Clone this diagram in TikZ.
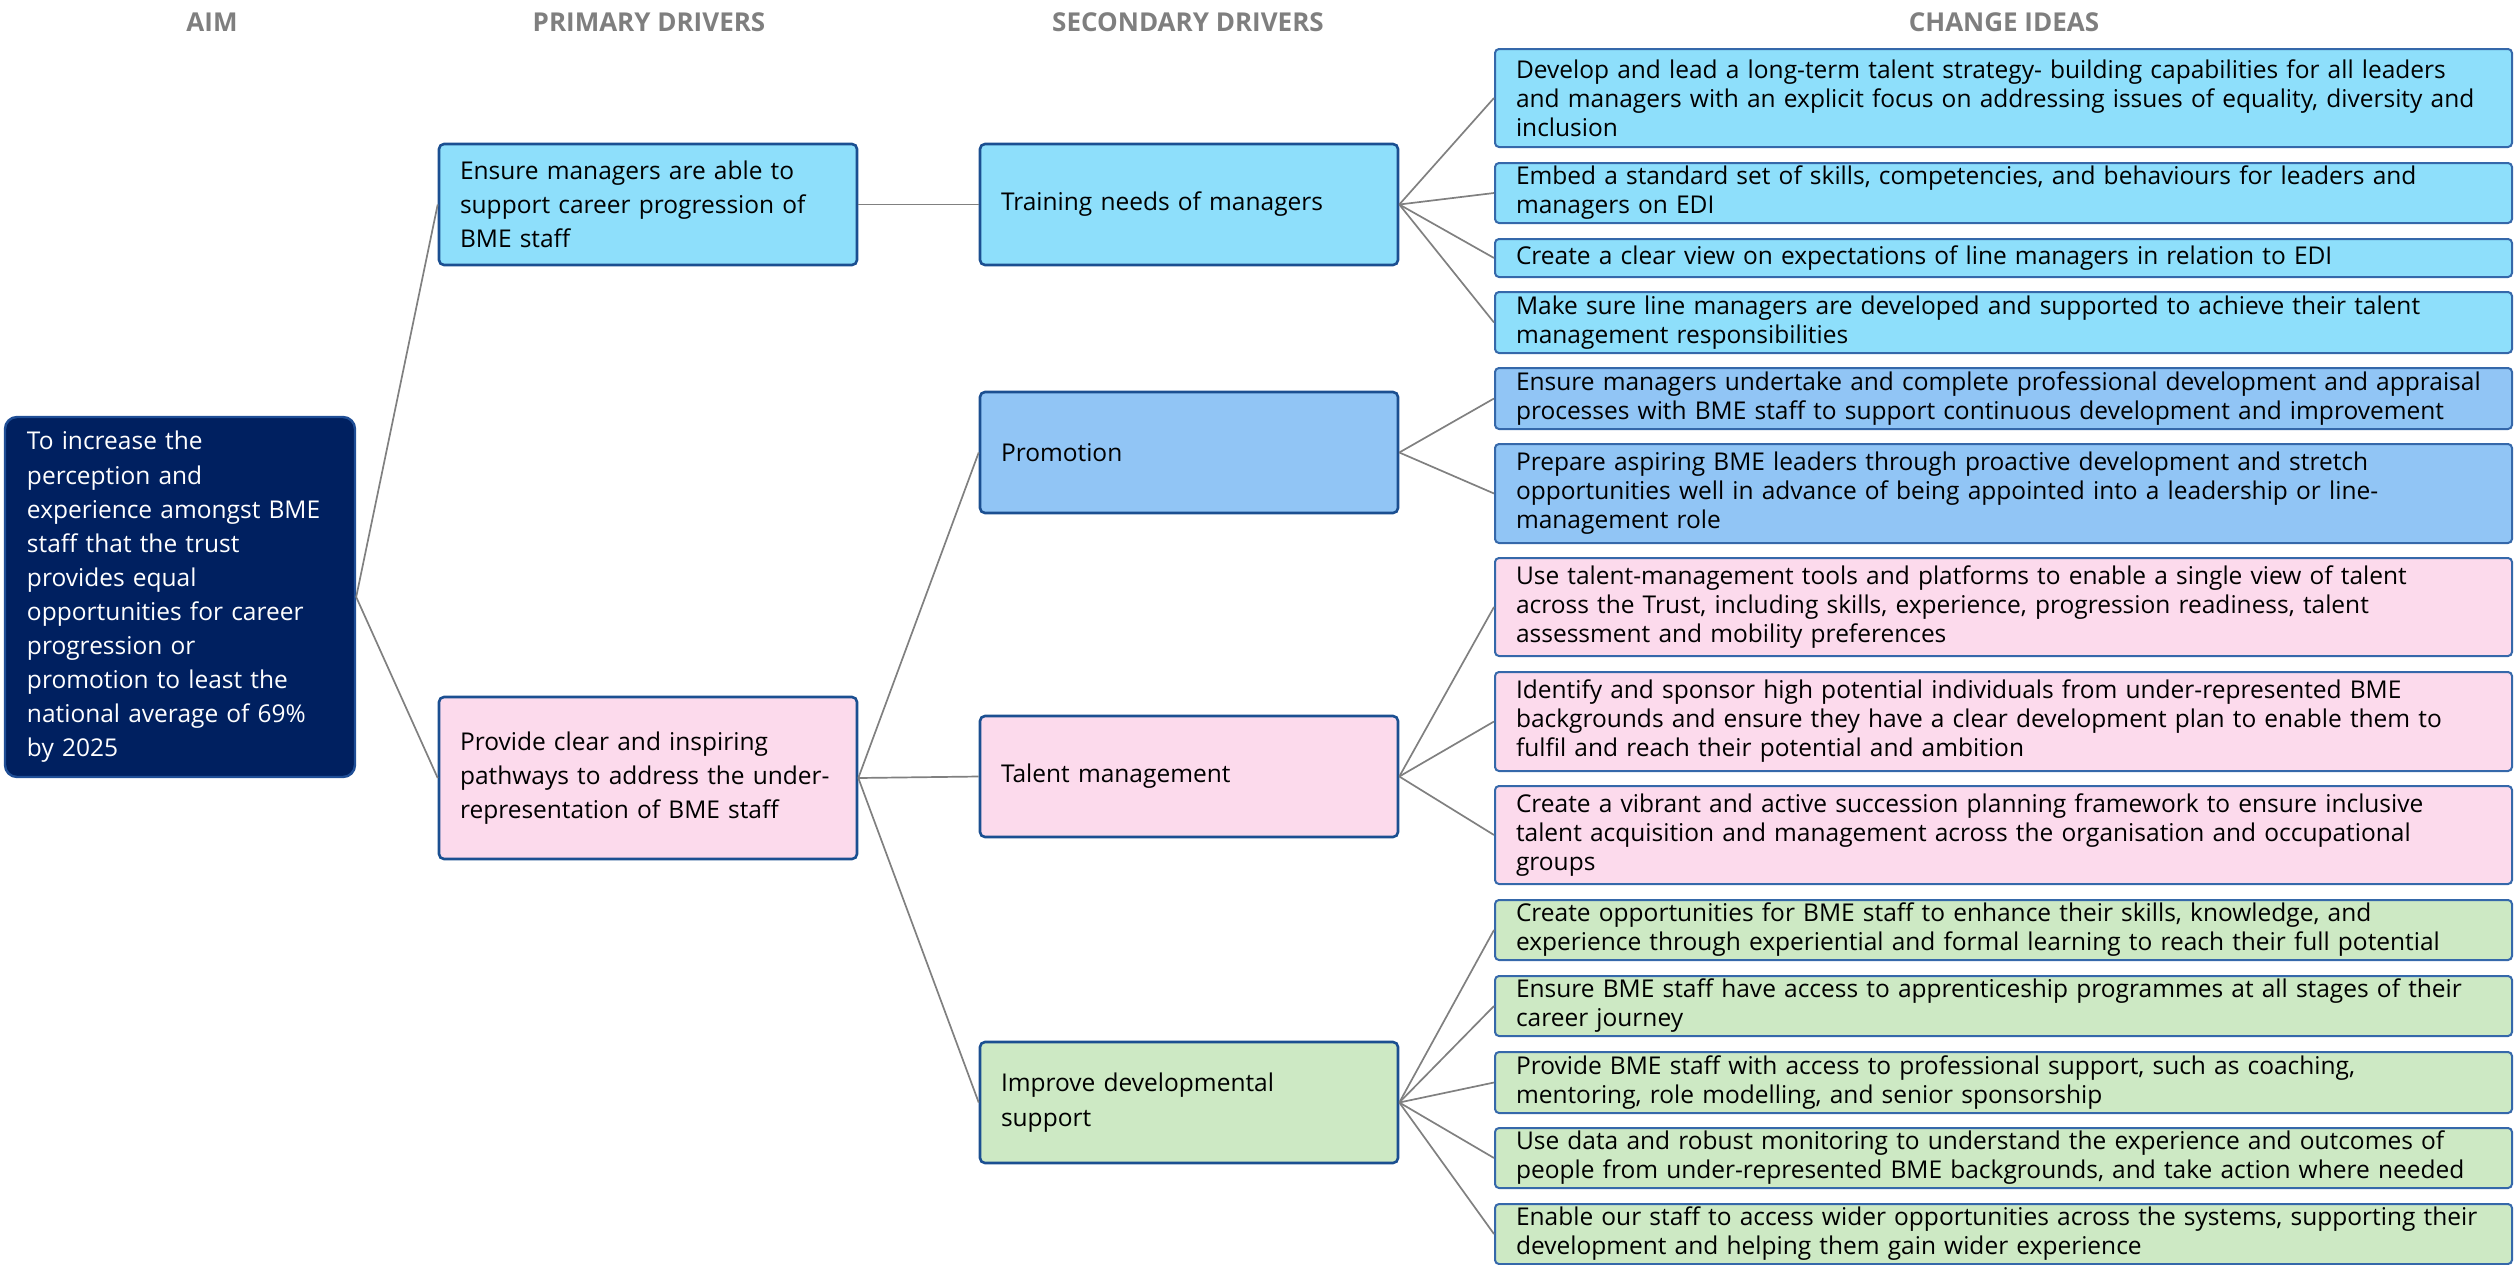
\documentclass[tikz,border=0pt]{standalone}
\usepackage{fontspec}
\setmainfont{Open Sans}
\definecolor{navy}{HTML}{002060}
\definecolor{aimbord}{HTML}{1F4E96}
\definecolor{bordc}{HTML}{1B4F91}
\definecolor{cbordc}{HTML}{3568AA}
\definecolor{linec}{HTML}{808080}
\definecolor{hdrc}{HTML}{7F7F7F}
\definecolor{fblue}{HTML}{8EDFFB}
\definecolor{fprom}{HTML}{91C5F5}
\definecolor{fpink}{HTML}{FCDAEC}
\definecolor{fgreen}{HTML}{CDE9C4}
\begin{document}
\begin{tikzpicture}[x=1pt,y=-1pt,
  conn/.style={draw=linec, line width=1.7pt},
  hdr/.style={text=hdrc, font=\fontsize{26}{30}\selectfont\bfseries, anchor=center, inner sep=0pt},
  dbox/.style={draw=bordc, line width=2.6pt, rounded corners=5pt, inner xsep=21pt, inner ysep=0pt, align=left, font=\fontsize{24.5}{34}\selectfont},
  aimbox/.style={draw=aimbord, fill=navy, text=white, line width=2.4pt, rounded corners=12pt, inner xsep=22pt, inner ysep=0pt, align=left, font=\fontsize{24.5}{34.1}\selectfont},
  cbox/.style={draw=cbordc, line width=2pt, rounded corners=4pt, inner xsep=21pt, inner ysep=0pt, align=left, text width=975pt, font=\fontsize{24.5}{29}\selectfont},
]
\useasboundingbox (0,0) rectangle (2514,1264);

% headers
\node[hdr] (h1) at (212,22) {AIM};
\node[hdr] (h2) at (649,22) {PRIMARY DRIVERS};
\node[hdr] (h3) at (1188,22) {SECONDARY DRIVERS};
\node[hdr] (h4) at (2004,22) {CHANGE IDEAS};

% aim
\node[aimbox, text width=306pt, minimum height=360pt] (aim) at (180,597) {To increase the\\perception and\\experience amongst BME\\staff that the trust\\provides equal\\opportunities for career\\progression or\\promotion to least the\\national average of 69\%\\by 2025};

% primary drivers
\node[dbox, fill=fblue, text width=376pt, minimum height=121pt] (p1) at (648,204.5) {Ensure managers are able to\\support career progression of\\BME staff};
\node[dbox, fill=fpink, text width=376pt, minimum height=162pt] (p2) at (648,778) {Provide clear and inspiring\\pathways to address the under-\\representation of BME staff};

% secondary drivers
\node[dbox, fill=fblue, text width=376pt, minimum height=121pt] (s1) at (1189,204.5) {Training needs of managers};
\node[dbox, fill=fprom, text width=376pt, minimum height=121pt] (s2) at (1189,452.5) {Promotion};
\node[dbox, fill=fpink, text width=376pt, minimum height=121pt] (s3) at (1189,776.5) {Talent management};
\node[dbox, fill=fgreen, text width=376pt, minimum height=121pt, font=\fontsize{24.5}{35}\selectfont] (s4) at (1189,1102.5) {Improve developmental\\support};

% change ideas
\node[cbox, fill=fblue, minimum height=98pt] (c1) at (2003.5,98) {Develop and lead a long-term talent strategy- building capabilities for all leaders\\and managers with an explicit focus on addressing issues of equality, diversity and\\inclusion};
\node[cbox, fill=fblue, minimum height=60pt] (c2) at (2003.5,193) {Embed a standard set of skills, competencies, and behaviours for leaders and\\managers on EDI};
\node[cbox, fill=fblue, minimum height=38pt] (c3) at (2003.5,258) {Create a clear view on expectations of line managers in relation to EDI};
\node[cbox, fill=fblue, minimum height=61pt] (c4) at (2003.5,322.5) {Make sure line managers are developed and supported to achieve their talent\\management responsibilities};
\node[cbox, fill=fprom, minimum height=61pt] (c5) at (2003.5,398.5) {Ensure managers undertake and complete professional development and appraisal\\processes with BME staff to support continuous development and improvement};
\node[cbox, fill=fprom, minimum height=99pt] (c6) at (2003.5,493.5) {Prepare aspiring BME leaders through proactive development and stretch\\opportunities well in advance of being appointed into a leadership or line-\\management role};
\node[cbox, fill=fpink, minimum height=98pt] (c7) at (2003.5,607) {Use talent-management tools and platforms to enable a single view of talent\\across the Trust, including skills, experience, progression readiness, talent\\assessment and mobility preferences};
\node[cbox, fill=fpink, minimum height=99pt] (c8) at (2003.5,721.5) {Identify and sponsor high potential individuals from under-represented BME\\backgrounds and ensure they have a clear development plan to enable them to\\fulfil and reach their potential and ambition};
\node[cbox, fill=fpink, minimum height=98pt] (c9) at (2003.5,835) {Create a vibrant and active succession planning framework to ensure inclusive\\talent acquisition and management across the organisation and occupational\\groups};
\node[cbox, fill=fgreen, minimum height=60pt] (c10) at (2003.5,930) {Create opportunities for BME staff to enhance their skills, knowledge, and\\experience through experiential and formal learning to reach their full potential};
\node[cbox, fill=fgreen, minimum height=60pt] (c11) at (2003.5,1006) {Ensure BME staff have access to apprenticeship programmes at all stages of their\\career journey};
\node[cbox, fill=fgreen, minimum height=61pt] (c12) at (2003.5,1082.5) {Provide BME staff with access to professional support, such as coaching,\\mentoring, role modelling, and senior sponsorship};
\node[cbox, fill=fgreen, minimum height=60pt] (c13) at (2003.5,1158) {Use data and robust monitoring to understand the experience and outcomes of\\people from under-represented BME backgrounds, and take action where needed};
\node[cbox, fill=fgreen, minimum height=60pt] (c14) at (2003.5,1234) {Enable our staff to access wider opportunities across the systems, supporting their\\development and helping them gain wider experience};

% connectors
\draw[conn] (aim.east) -- (p1.west);
\draw[conn] (aim.east) -- (p2.west);
\draw[conn] (p1.east) -- (s1.west);
\draw[conn] (p2.east) -- (s2.west);
\draw[conn] (p2.east) -- (s3.west);
\draw[conn] (p2.east) -- (s4.west);
\foreach \c in {c1,c2,c3,c4} \draw[conn] (s1.east) -- (\c.west);
\foreach \c in {c5,c6} \draw[conn] (s2.east) -- (\c.west);
\foreach \c in {c7,c8,c9} \draw[conn] (s3.east) -- (\c.west);
\foreach \c in {c10,c11,c12,c13,c14} \draw[conn] (s4.east) -- (\c.west);
\end{tikzpicture}
\end{document}
